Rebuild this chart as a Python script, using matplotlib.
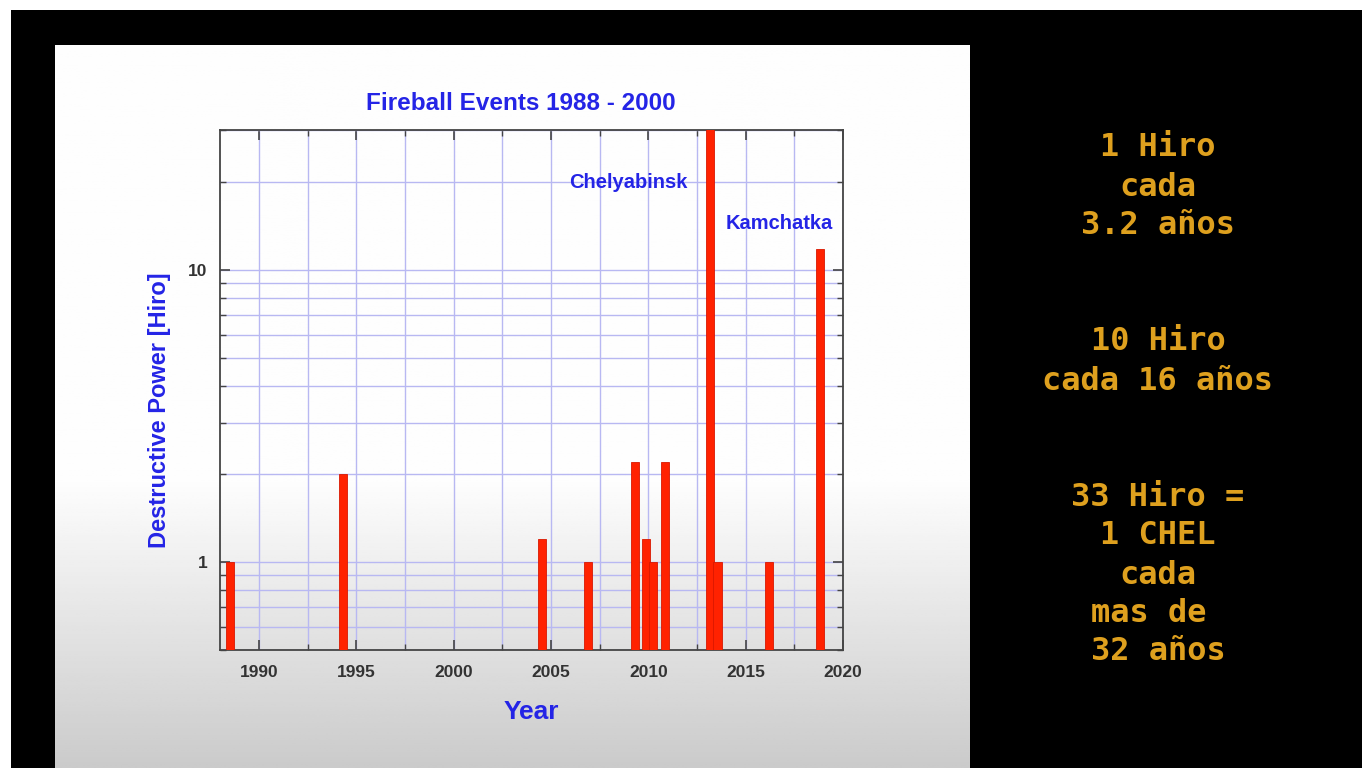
import matplotlib
matplotlib.use("Agg")
import matplotlib.pyplot as plt
import numpy as np
from matplotlib.ticker import MultipleLocator, LogLocator, NullFormatter, FixedLocator, FixedFormatter

# fireball events
years = [1988.5, 1994.3, 2004.55, 2006.9, 2009.3, 2009.9, 2010.25, 2010.85,
         2013.15, 2013.55, 2016.2, 2018.8]
power = [1.0, 2.0, 1.2, 1.0, 2.2, 1.2, 1.0, 2.2, 33.0, 1.0, 1.0, 11.8]

title = "Fireball Events 1988 - 2000"
xlabel = "Year"
ylabel = "Destructive Power [Hiro]"
x_ticks = [1990, 1995, 2000, 2005, 2010, 2015, 2020]
y_ticks = [1, 10]
y_tick_labels = ["1", "10"]

labels = ["Chelyabinsk", "Kamchatka"]
label_x = [2008.95, 2016.7]
label_y = [19.9, 14.4]

side_lines = ["1 Hiro", "cada", "3.2 años",
              "10 Hiro", "cada 16 años",
              "33 Hiro =", "1 CHEL", "cada", "mas de ", "32 años"]
side_y = [148, 187, 225, 342, 381, 497, 536, 575, 614, 652]

W, H = 1362, 768
BLUE = "#2424e6"

fig = plt.figure(figsize=(W / 100, H / 100), dpi=100)
fig.patch.set_facecolor("black")

# white strip round the screenshot (top and left)
frame = fig.add_axes([0, 0, 1, 1])
frame.set_xlim(0, W)
frame.set_ylim(H, 0)
frame.axis("off")
frame.add_patch(plt.Rectangle((0, 0), W, 10, color="white", lw=0))
frame.add_patch(plt.Rectangle((0, 0), 11, H, color="white", lw=0))

# slide with a soft grey gradient toward the bottom
slide = fig.add_axes([55 / W, 0, (970 - 55) / W, 1 - 45 / H])
slide.axis("off")
rows = np.linspace(0, 1, 300)
shade = np.where(rows < 0.6, 0.995, 0.995 - (rows - 0.6) / 0.4 * 0.2)
grad = np.repeat(shade[:, None], 2, axis=1)
slide.imshow(grad, cmap="gray", vmin=0, vmax=1, aspect="auto",
             extent=[0, 1, 0, 1], origin="upper")
slide.set_xlim(0, 1)
slide.set_ylim(0, 1)

ax = fig.add_axes([220 / W, 1 - 650 / H, (843 - 220) / W, (650 - 130) / H])
ax.set_facecolor("none")
ax.bar(years, power, width=0.42, color="#ff2200", edgecolor="#d81800",
       linewidth=0.6, zorder=3)
ax.set_yscale("log")
ax.set_xlim(1988, 2020)
ax.set_ylim(0.5, 30.1)

ax.xaxis.set_major_locator(FixedLocator(x_ticks))
ax.xaxis.set_minor_locator(MultipleLocator(2.5))
ax.yaxis.set_major_locator(FixedLocator(y_ticks))
ax.yaxis.set_major_formatter(FixedFormatter(y_tick_labels))
ax.yaxis.set_minor_locator(LogLocator(base=10, subs=np.arange(2, 10)))
ax.yaxis.set_minor_formatter(NullFormatter())

ax.grid(True, which="both", color="#b8b8f2", linewidth=1.0, zorder=1)
ax.set_axisbelow(True)
ax.tick_params(which="both", direction="in", top=True, right=True,
               color="#444444")
ax.tick_params(which="major", length=7, width=1.2, labelsize=12.5, pad=11,
               labelcolor="#333333")
ax.tick_params(axis="y", which="major", pad=9)
ax.tick_params(which="minor", length=4, width=1.0)
for lab in ax.get_xticklabels() + ax.get_yticklabels():
    lab.set_fontweight("bold")
    lab.set_family("Liberation Sans")
for sp in ax.spines.values():
    sp.set_color("#444444")
    sp.set_linewidth(1.3)

ax.set_xlabel(xlabel, fontsize=19, fontweight="bold", color=BLUE,
              family="Liberation Sans", labelpad=14)
ax.set_ylabel(ylabel, fontsize=17, fontweight="bold", color=BLUE,
              family="Liberation Sans")
ax.yaxis.set_label_coords(-0.078, 0.462)
fig.text(521 / W, 1 - 103 / H, title, ha="center", va="center", fontsize=17.5,
         fontweight="bold", color=BLUE, family="Liberation Sans")

for txt, lx, ly in zip(labels, label_x, label_y):
    ax.text(lx, ly, txt, ha="center", va="center", fontsize=14.5,
            fontweight="bold", color=BLUE, family="Liberation Sans", zorder=4)

for txt, yy in zip(side_lines, side_y):
    fig.text(1158 / W, 1 - yy / H, txt, ha="center", va="center",
             fontsize=23, fontweight="bold", color="#dea01e",
             family="DejaVu Sans Mono")

fig.savefig("out.png", dpi=100, facecolor=fig.get_facecolor())
